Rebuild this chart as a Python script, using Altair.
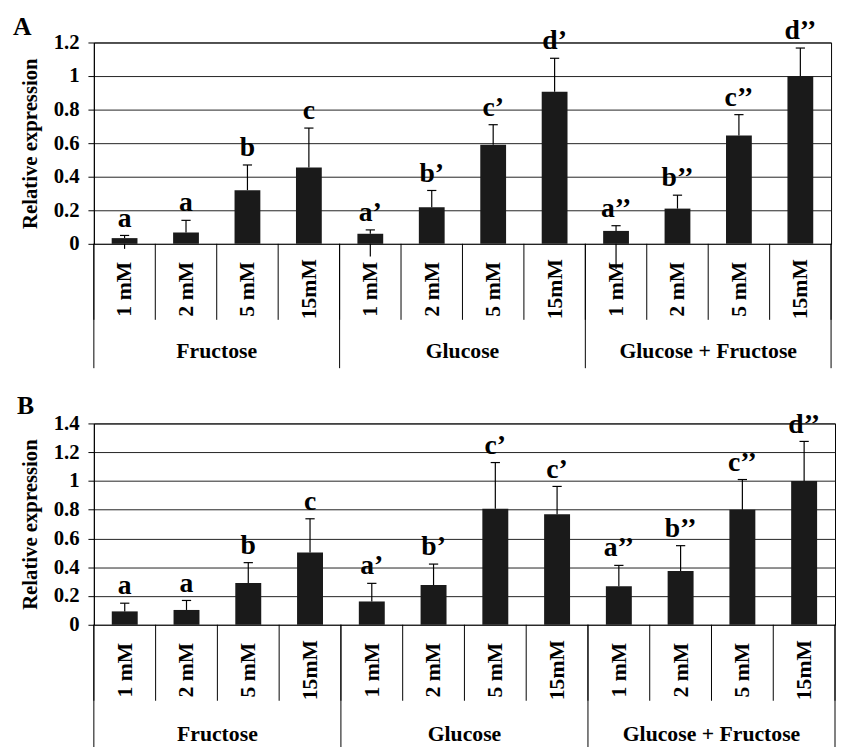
import altair as alt
import pandas as pd

# ---------------- data ----------------
concs = ["1 mM", "2 mM", "5 mM", "15mM"] * 3
groups = ["Fructose", "Glucose", "Glucose + Fructose"]

a_values = [0.034, 0.067, 0.32, 0.455, 0.06, 0.218, 0.59, 0.906, 0.077, 0.21, 0.645, 1.0]
a_err_top = [0.05, 0.14, 0.47, 0.69, 0.083, 0.318, 0.71, 1.106, 0.108, 0.29, 0.77, 1.167]
a_err_low = [-0.03, None, None, None, -0.075, None, None, None, -0.15, None, None, None]
a_letters = ["a", "a", "b", "c", "a’", "b’", "c’", "d’", "a’’", "b’’", "c’’", "d’’"]
a_ticks = [0, 0.2, 0.4, 0.6, 0.8, 1, 1.2]

b_values = [0.093, 0.103, 0.29, 0.502, 0.162, 0.276, 0.806, 0.768, 0.267, 0.374, 0.8, 1.0]
b_err_top = [0.15, 0.169, 0.432, 0.737, 0.288, 0.422, 1.128, 0.962, 0.413, 0.55, 1.01, 1.275]
b_err_low = [None] * 12
b_letters = ["a", "a", "b", "c", "a’", "b’", "c’", "c’", "a’’", "b’’", "c’’", "d’’"]
b_ticks = [0, 0.2, 0.4, 0.6, 0.8, 1, 1.2, 1.4]

FONT = "Liberation Serif, Times New Roman, Times, serif"
H = 204


def panel(letter, values, err_top, err_low, letters, ticks, width, letter_x, letter_y, glab_off):
    n = len(values)
    ymax = ticks[-1]
    df = pd.DataFrame({
        "idx": list(range(n)),
        "conc": concs,
        "value": values,
        "err": err_top,
        "low": err_low,
        "lab": letters,
    })
    df["c"] = df["idx"] + 0.5
    df["b0"] = df["idx"] + 0.29
    df["b1"] = df["idx"] + 0.71
    df["k0"] = df["c"] - 0.075
    df["k1"] = df["c"] + 0.075

    bounds = pd.DataFrame({"b": list(range(n + 1))})
    gbounds = pd.DataFrame({"b": [0, 4, 8, 12]})
    gl = pd.DataFrame({"g": groups, "c": [2, 6, 10]})

    xs = alt.Scale(domain=[0, n], nice=False, zero=False)
    ys = alt.Scale(domain=[0, ymax], nice=False)
    yax = alt.Axis(values=ticks, format="~g", title="Relative expression",
                   labelOverlap=False, labelFlush=False,
                   grid=True, gridColor="#222", gridWidth=1,
                   domainColor="#000", tickColor="#000", tickSize=6,
                   labelFont=FONT, labelFontWeight="bold", labelFontSize=21,
                   labelColor="#000", labelPadding=9,
                   titleFont=FONT, titleFontWeight="bold", titleFontSize=21,
                   titleColor="#000", titlePadding=13)

    def X(f):
        return alt.X(f, scale=xs, axis=None)

    def Y(f):
        return alt.Y(f, scale=ys, axis=yax, title="Relative expression")

    base = alt.Chart(df)
    bars = base.mark_bar(color="#1a1a1a").encode(
        x=X("b0:Q"), x2="b1:Q", y=Y("value:Q"), y2=alt.datum(0))
    whisk = base.mark_rule(color="#000", strokeWidth=1.2).encode(
        x=X("c:Q"), y=Y("value:Q"), y2="err:Q")
    caps = base.mark_rule(color="#000", strokeWidth=1.2).encode(
        x=X("k0:Q"), x2="k1:Q", y=Y("err:Q"))
    lows = base.transform_filter("isValid(datum.low)").mark_rule(
        color="#000", strokeWidth=1.2).encode(
        x=X("c:Q"), y=Y("low:Q"), y2=alt.datum(0))
    labs = base.mark_text(font=FONT, fontWeight="bold", fontSize=28, baseline="alphabetic",
                          dy=-9, color="#000").encode(
        x=X("c:Q"), y=Y("err:Q"), text="lab:N")
    xlab = base.mark_text(font=FONT, fontWeight="bold", fontSize=22, angle=270,
                          align="center", baseline="middle", color="#000").encode(
        x=X("c:Q"), y=alt.value(H + 46), text="conc:N")
    subdiv = alt.Chart(bounds).mark_rule(color="#000", strokeWidth=1).encode(
        x=X("b:Q"), y=alt.value(H), y2=alt.value(H + 77))
    gdiv = alt.Chart(gbounds).mark_rule(color="#000", strokeWidth=1).encode(
        x=X("b:Q"), y=alt.value(H), y2=alt.value(H + 126))
    glab = alt.Chart(gl).mark_text(font=FONT, fontWeight="bold", fontSize=22,
                                   baseline="alphabetic", color="#000").encode(
        x=X("c:Q"), y=alt.value(H + glab_off), text="g:N")
    plab = alt.Chart(pd.DataFrame({"t": [letter]})).mark_text(
        font=FONT, fontWeight="bold", fontSize=26, align="left", baseline="alphabetic",
        color="#000").encode(x=alt.value(letter_x), y=alt.value(letter_y), text="t:N")

    return alt.layer(bars, whisk, caps, lows, labs, xlab, subdiv, gdiv, glab, plab).properties(
        width=width, height=H)


pa = panel("A", a_values, a_err_top, a_err_low, a_letters, a_ticks, 747, -82, -8, 116)
pb = panel("B", b_values, b_err_top, b_err_low, b_letters, b_ticks, 751, -78, -10, 118)

chart = alt.concat(pa, pb, columns=1, spacing=23, align="none").properties(
    padding={"left": 4, "top": 0, "right": 0, "bottom": 0}
).configure(background="white").configure_view(stroke="#000", strokeWidth=1)

chart.save("out.html", embed_options={"renderer": "svg", "actions": False})
